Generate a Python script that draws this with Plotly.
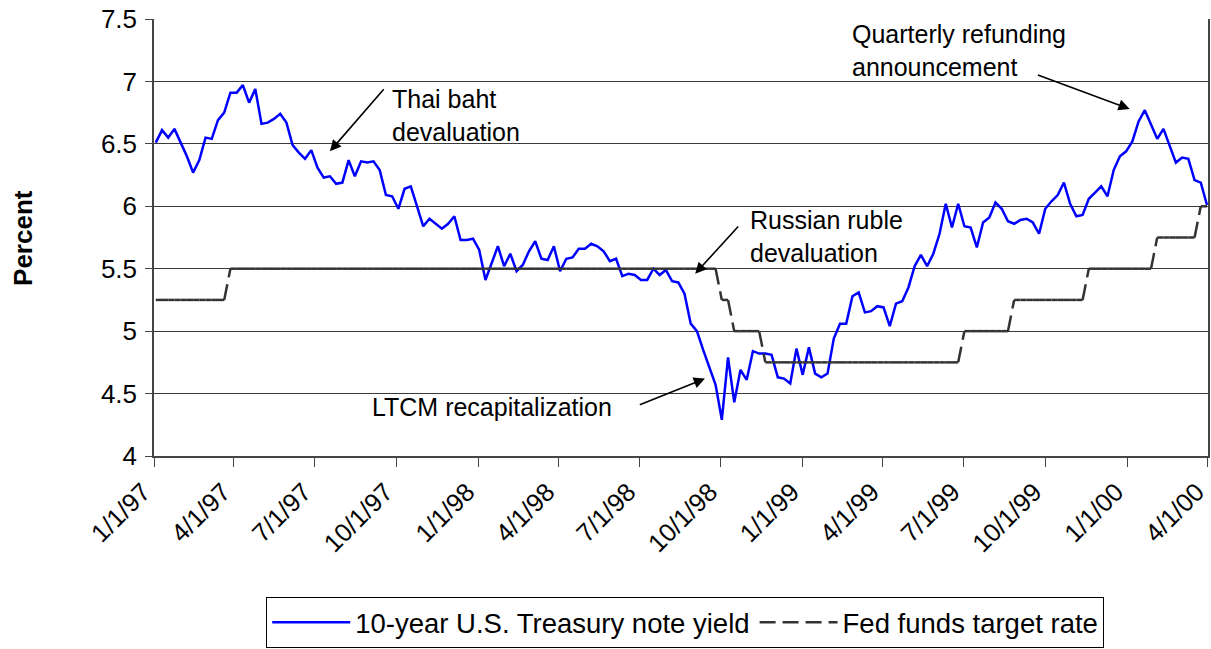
import pandas as pd
import plotly.graph_objects as go

# ---------------- data ----------------
start_week = "1997-01-03"          # weekly (Friday) observations
yield_vals = [
    6.51, 6.61, 6.55, 6.62, 6.51, 6.40, 6.27, 6.37, 6.55, 6.54,
    6.69, 6.75, 6.91, 6.91, 6.97, 6.83, 6.94, 6.66, 6.67, 6.70,
    6.74, 6.67, 6.49, 6.43, 6.38, 6.45, 6.31, 6.23, 6.24, 6.18,
    6.19, 6.37, 6.24, 6.36, 6.35, 6.36, 6.29, 6.09, 6.08, 5.98,
    6.14, 6.16, 6.00, 5.84, 5.90, 5.86, 5.82, 5.86, 5.92, 5.73,
    5.73, 5.74, 5.65, 5.41, 5.54, 5.68, 5.52, 5.62, 5.48, 5.53,
    5.64, 5.72, 5.58, 5.57, 5.68, 5.48, 5.58, 5.59, 5.66, 5.66,
    5.70, 5.68, 5.64, 5.56, 5.58, 5.44, 5.46, 5.45, 5.41, 5.41,
    5.50, 5.45, 5.49, 5.40, 5.39, 5.30, 5.06, 5.00, 4.85, 4.71,
    4.57, 4.29, 4.79, 4.43, 4.69, 4.61, 4.84, 4.82, 4.82, 4.81,
    4.63, 4.62, 4.58, 4.86, 4.65, 4.87, 4.66, 4.63, 4.66, 4.94,
    5.06, 5.06, 5.28, 5.31, 5.15, 5.16, 5.20, 5.19, 5.04, 5.22,
    5.24, 5.35, 5.52, 5.61, 5.52, 5.62, 5.78, 6.02, 5.83, 6.02,
    5.84, 5.83, 5.67, 5.87, 5.91, 6.03, 5.98, 5.88, 5.86, 5.89,
    5.90, 5.87, 5.78, 5.98, 6.04, 6.09, 6.19, 6.02, 5.92, 5.93,
    6.06, 6.11, 6.16, 6.08, 6.29, 6.40, 6.44, 6.52, 6.68, 6.77,
    6.65, 6.54, 6.62, 6.49, 6.35, 6.39, 6.38, 6.21, 6.19, 6.01,
]
fed_initial_rate = 5.25
fed_change_dates = ["1997-03-25", "1998-09-29", "1998-10-15", "1998-11-17",
                    "1999-06-30", "1999-08-24", "1999-11-16", "2000-02-02",
                    "2000-03-21"]
fed_new_rates = [5.50, 5.25, 5.00, 4.75, 5.00, 5.25, 5.50, 5.75, 6.00]

tick_dates = ["1997-01-01", "1997-04-01", "1997-07-01", "1997-10-01",
              "1998-01-01", "1998-04-01", "1998-07-01", "1998-10-01",
              "1999-01-01", "1999-04-01", "1999-07-01", "1999-10-01",
              "2000-01-01", "2000-04-01"]
tick_labels = ["1/1/97", "4/1/97", "7/1/97", "10/1/97", "1/1/98", "4/1/98",
               "7/1/98", "10/1/98", "1/1/99", "4/1/99", "7/1/99", "10/1/99",
               "1/1/00", "4/1/00"]
y_ticks = [4, 4.5, 5, 5.5, 6, 6.5, 7, 7.5]

# ---------------- derived series ----------------
weeks = pd.date_range(start_week, periods=len(yield_vals), freq="7D")
chg = pd.to_datetime(fed_change_dates)
fed_weekly = []
for w in weeks:
    r = fed_initial_rate
    for d, nr in zip(chg, fed_new_rates):
        if d <= w:
            r = nr
    fed_weekly.append(r)

# each weekly step is its own segment (dash pattern restarts per segment)
fx, fy = [], []
for i in range(len(weeks) - 1):
    fx += [weeks[i], weeks[i + 1], None]
    fy += [fed_weekly[i], fed_weekly[i + 1], None]

FONT = "Liberation Sans, Arial, sans-serif"

fig = go.Figure()
fig.add_trace(go.Scatter(
    x=weeks, y=yield_vals, mode="lines",
    name="10-year U.S. Treasury note yield",
    line=dict(color="#0000FF", width=2.5),
))
fig.add_trace(go.Scatter(
    x=fx, y=fy, mode="lines", connectgaps=False,
    name="Fed funds target rate",
    line=dict(color="#333333", width=2.5, dash="16px,7px"),
))

text_font = dict(family=FONT, size=25, color="black")
annotations = [
    dict(x="1997-09-24", y=6.73, text="Thai baht<br>devaluation"),
    dict(x="1998-10-31", y=5.76, text="Russian ruble<br>devaluation"),
    dict(x="1997-09-01", y=4.39, text="LTCM recapitalization"),
    dict(x="1999-02-23", y=7.25, text="Quarterly refunding<br>announcement"),
]
annotations = [dict(a, xref="x", yref="y", showarrow=False, xanchor="left",
                    yanchor="middle", align="left", font=text_font)
               for a in annotations]
arrows = [
    (("1997-09-18", 6.95), ("1997-07-18", 6.44)),
    (("1998-10-22", 5.85), ("1998-09-02", 5.46)),
    (("1998-06-30", 4.405), ("1998-09-13", 4.62)),
    (("1999-09-21", 7.055), ("2000-01-04", 6.78)),
]
for (tx, ty), (hx, hy) in arrows:
    annotations.append(dict(
        x=hx, y=hy, ax=tx, ay=ty, xref="x", yref="y", axref="x", ayref="y",
        text="", showarrow=True, arrowhead=2, arrowsize=1.4, arrowwidth=1.6,
        arrowcolor="black", standoff=0, startstandoff=0,
    ))
annotations.append(dict(
    x=-0.1248, y=0.5, xref="paper", yref="paper", text="<b>Percent</b>",
    textangle=-90, showarrow=False, xanchor="center", yanchor="middle",
    font=dict(family=FONT, size=26, color="black"),
))

fig.update_layout(
    width=1211, height=649, autosize=False,
    margin=dict(l=154, r=3, t=19, b=193, autoexpand=False),
    paper_bgcolor="white", plot_bgcolor="white",
    font=dict(family=FONT, color="black"),
    showlegend=True,
    legend=dict(
        orientation="h", x=0.504, xanchor="center",
        yref="container", y=0.041, yanchor="middle",
        bordercolor="black", borderwidth=1, bgcolor="white",
        font=dict(family=FONT, size=27.5, color="black"),
        itemwidth=78,
    ),
    annotations=annotations,
)
fig.update_xaxes(
    type="date", range=["1997-01-01", "2000-04-01 03:00"],
    tickmode="array", tickvals=tick_dates, ticktext=tick_labels,
    tickangle=-45, tickfont=dict(family=FONT, size=25.5, color="black"),
    showgrid=False, showline=True, linecolor="#444444", linewidth=1.5,
    ticks="outside", ticklen=9, tickcolor="#444444", tickwidth=1,
    ticklabelshift=-11, ticklabeloverflow="allow",
    zeroline=False, automargin=False,
)
fig.update_yaxes(
    range=[4, 7.5], tickmode="array", tickvals=y_ticks,
    tickfont=dict(family=FONT, size=26, color="black"),
    showgrid=True, gridcolor="#3a3a3a", gridwidth=1,
    showline=True, linecolor="#444444", linewidth=1.5, mirror=True,
    ticks="outside", ticklen=7, tickcolor="#444444", tickwidth=1,
    ticklabelstandoff=3, zeroline=False, automargin=False,
)

fig.write_html(
    "out.html",
    config={"displayModeBar": False},
    post_script="document.body.style.margin='0';document.body.style.padding='0';"
                "document.documentElement.style.overflow='hidden';",
)
